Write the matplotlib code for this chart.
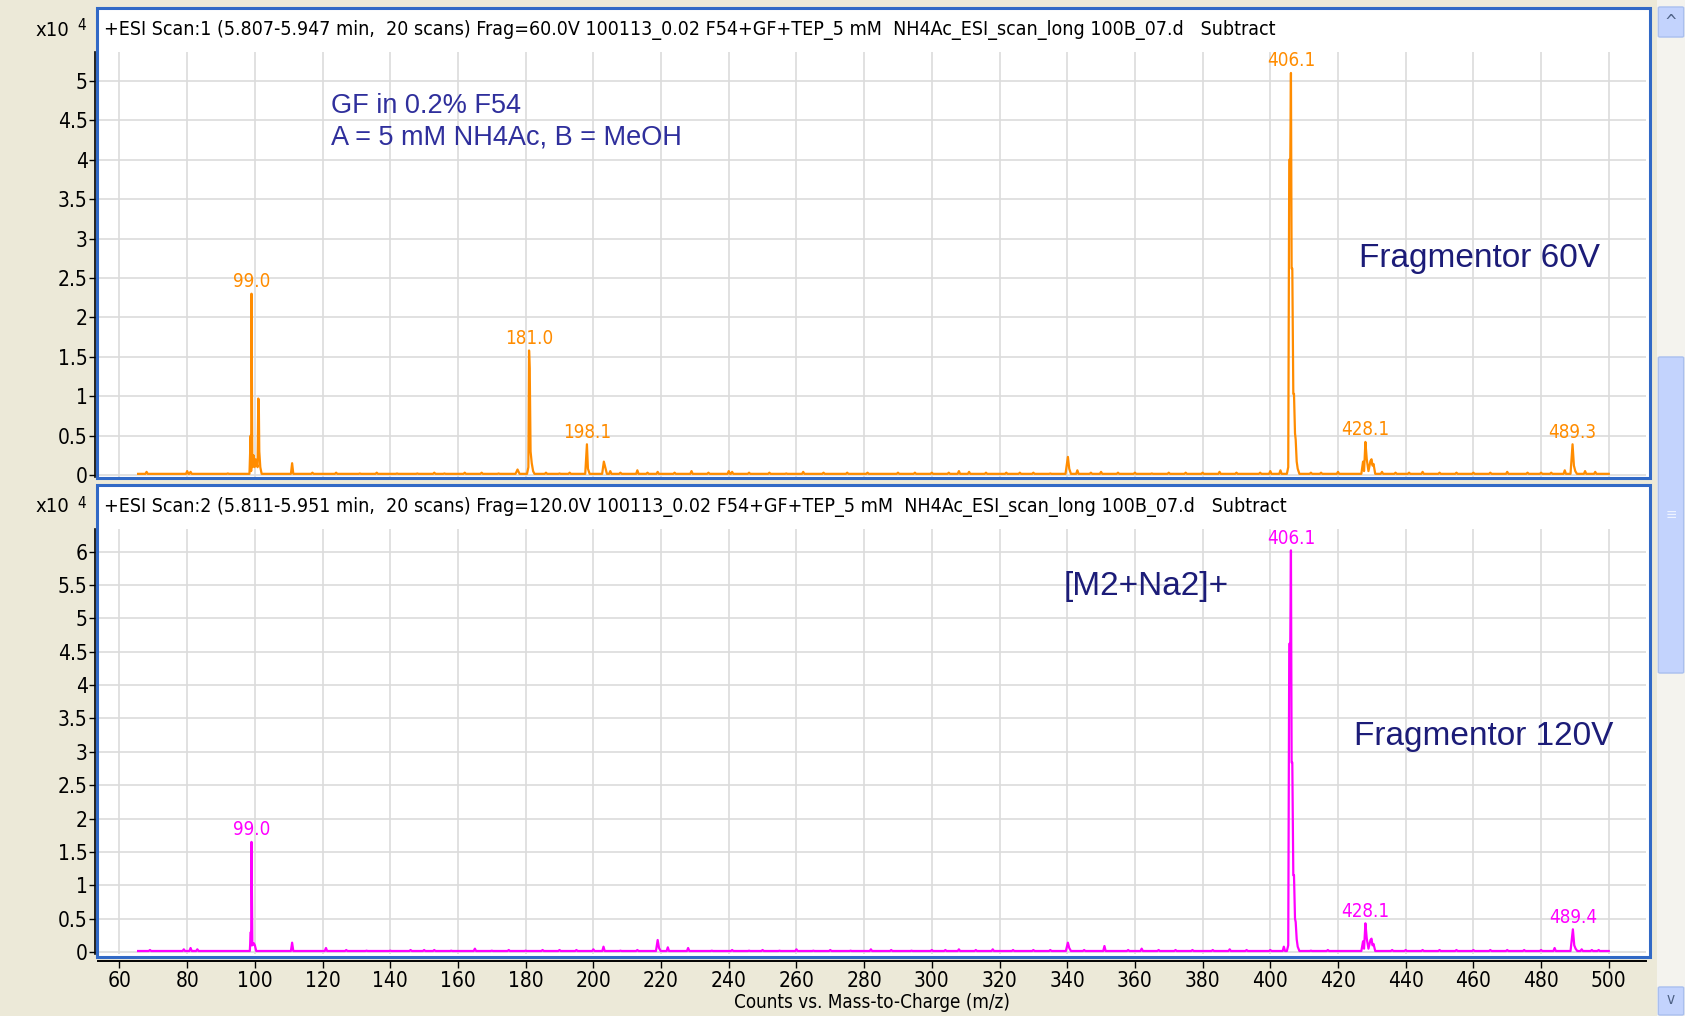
import matplotlib
matplotlib.use("Agg")
import matplotlib.pyplot as plt
from matplotlib.patches import Rectangle, FancyBboxPatch

# ---- data (counts x10^4 vs m/z) ----
x_ticks = [60, 80, 100, 120, 140, 160, 180, 200, 220, 240, 260, 280, 300,
           320, 340, 360, 380, 400, 420, 440, 460, 480, 500]
top_yticks = [0, 0.5, 1, 1.5, 2, 2.5, 3, 3.5, 4, 4.5, 5]
bot_yticks = [0, 0.5, 1, 1.5, 2, 2.5, 3, 3.5, 4, 4.5, 5, 5.5, 6]

# Fragmentor 60V: profile points of the main peaks
top_peak_mz = [98.4, 98.75, 98.9, 99.0, 99.25, 99.6, 99.9, 100.2, 100.8, 101.0, 101.15, 101.3, 101.6, 102.0,
               177.0, 177.6, 178.2,
               180.4, 180.8, 181.0, 181.2, 181.45, 181.8, 182.2, 182.6,
               197.6, 198.1, 198.4, 198.9,
               202.6, 203.1, 203.5, 204.0,
               339.5, 340.2, 340.6, 341.1,
               404.9, 405.3, 405.6, 405.9, 406.1, 406.3, 406.5, 406.8, 407.0, 407.3, 407.5, 407.8, 408.1, 408.6,
               426.9, 427.4, 427.7, 428.1, 428.5, 429.0, 429.6, 429.9, 430.2, 430.5, 431.0,
               488.7, 489.3, 489.7, 490.1, 490.6]
top_peak_int = [0.015, 0.5, 0.05, 2.3, 0.1, 0.25, 0.1, 0.2, 0.1, 0.97, 0.95, 0.3, 0.1, 0.015,
                0.015, 0.07, 0.015,
                0.015, 0.1, 1.58, 1.35, 0.3, 0.15, 0.05, 0.015,
                0.015, 0.39, 0.08, 0.015,
                0.015, 0.17, 0.1, 0.015,
                0.015, 0.23, 0.08, 0.015,
                0.015, 0.1, 4.0, 4.0, 5.1, 2.62, 2.62, 1.03, 1.03, 0.53, 0.45, 0.17, 0.08, 0.015,
                0.015, 0.17, 0.05, 0.42, 0.2, 0.05, 0.18, 0.2, 0.12, 0.14, 0.015,
                0.015, 0.39, 0.12, 0.05, 0.015]
top_blip_mz = [68, 80, 81, 92, 111, 117, 124, 131, 136, 142, 148, 153, 156, 162, 167, 172, 186, 190, 193,
               205, 208, 213, 216, 219, 224, 229, 234, 240, 241, 246, 252, 257, 262, 268, 275, 281, 290,
               295, 300, 305, 308, 311, 316, 322, 326, 330, 335, 343, 347, 350, 355, 360, 365, 370, 375,
               380, 385, 390, 397, 400, 403, 412, 415, 420, 433, 437, 441, 445, 450, 455, 460, 465, 470,
               476, 480, 483, 487, 493, 496]
top_blip_int = [0.04, 0.05, 0.04, 0.02, 0.15, 0.03, 0.03, 0.02, 0.03, 0.02, 0.02, 0.03, 0.02, 0.03, 0.03, 0.02,
                0.03, 0.02, 0.03,
                0.05, 0.03, 0.06, 0.03, 0.04, 0.03, 0.05, 0.03, 0.05, 0.04, 0.03, 0.03, 0.02, 0.04, 0.03,
                0.03, 0.03, 0.03,
                0.03, 0.03, 0.03, 0.05, 0.04, 0.03, 0.03, 0.03, 0.03, 0.02, 0.06, 0.03, 0.04, 0.03, 0.03,
                0.02, 0.03, 0.03,
                0.03, 0.04, 0.03, 0.03, 0.05, 0.06, 0.03, 0.03, 0.04, 0.04, 0.03, 0.03, 0.04, 0.03, 0.03,
                0.03, 0.03, 0.04,
                0.03, 0.03, 0.03, 0.06, 0.05, 0.04]
top_label_mz = [99.0, 181.0, 198.1, 406.1, 428.1, 489.3]
top_label_int = [2.3, 1.58, 0.39, 5.1, 0.42, 0.39]

# Fragmentor 120V
bot_peak_mz = [98.5, 98.8, 98.9, 99.0, 99.25, 99.7, 100.0, 100.4,
               218.5, 219.0, 219.4, 219.9,
               339.6, 340.2, 340.6, 341.1,
               404.9, 405.3, 405.6, 405.9, 406.1, 406.3, 406.5, 406.8, 407.0, 407.3, 407.5, 407.8, 408.1, 408.6,
               426.9, 427.4, 427.7, 428.1, 428.5, 429.0, 429.6, 429.9, 430.2, 430.5, 431.0,
               488.7, 489.4, 489.8, 490.2, 490.7]
bot_peak_int = [0.015, 0.3, 0.1, 1.65, 0.1, 0.13, 0.1, 0.015,
                0.015, 0.18, 0.06, 0.015,
                0.015, 0.14, 0.06, 0.015,
                0.015, 0.1, 4.62, 4.62, 6.02, 2.84, 2.84, 1.15, 1.15, 0.5, 0.45, 0.19, 0.08, 0.015,
                0.015, 0.16, 0.05, 0.43, 0.2, 0.05, 0.18, 0.2, 0.1, 0.12, 0.015,
                0.015, 0.34, 0.1, 0.05, 0.015]
bot_blip_mz = [69, 79, 81, 83, 111, 121, 127, 133, 140, 146, 150, 153, 158, 165, 170, 175, 180, 185,
               190, 195, 200, 203, 208, 213, 222, 228, 235, 241, 246, 250, 255, 260, 265, 270, 276,
               282, 288, 294, 300, 304, 308, 313, 318, 324, 330, 335, 345, 351, 358, 362, 367, 372,
               377, 383, 388, 393, 400, 404, 412, 417, 436, 440, 445, 450, 455, 460, 465, 470, 475,
               480, 484, 492, 495, 497]
bot_blip_int = [0.03, 0.04, 0.06, 0.04, 0.14, 0.06, 0.03, 0.02, 0.02, 0.03, 0.03, 0.03, 0.02, 0.05, 0.02,
                0.03, 0.02, 0.03,
                0.03, 0.03, 0.04, 0.08, 0.02, 0.03, 0.07, 0.06, 0.02, 0.03, 0.02, 0.03, 0.02, 0.04,
                0.02, 0.03, 0.02,
                0.04, 0.03, 0.02, 0.03, 0.03, 0.04, 0.03, 0.04, 0.03, 0.03, 0.03, 0.03, 0.09, 0.03,
                0.05, 0.03, 0.03,
                0.03, 0.03, 0.04, 0.03, 0.03, 0.08, 0.02, 0.03, 0.03, 0.03, 0.03, 0.03, 0.03, 0.03,
                0.03, 0.03, 0.03,
                0.03, 0.06, 0.04, 0.03, 0.03]
bot_label_mz = [99.0, 406.1, 428.1, 489.4]
bot_label_int = [1.65, 6.02, 0.43, 0.34]

top_header = ("+ESI Scan:1 (5.807-5.947 min,  20 scans) Frag=60.0V 100113_0.02 F54+GF+TEP_5 mM  "
              "NH4Ac_ESI_scan_long 100B_07.d   Subtract")
bot_header = ("+ESI Scan:2 (5.811-5.951 min,  20 scans) Frag=120.0V 100113_0.02 F54+GF+TEP_5 mM  "
              "NH4Ac_ESI_scan_long 100B_07.d   Subtract")

ORANGE = "#FF8C00"
MAGENTA = "#FF00FF"
FRAME = "#3169C6"
BG = "#ECE9D8"
NAVY = "#1C1C78"
arial = ["Liberation Sans", "DejaVu Sans"]
SMALL = 13.5
TICK = 15

plt.rcParams["font.family"] = ["DejaVu Sans"]
plt.rcParams["font.stretch"] = "condensed"

W, H = 1685, 1016


def build_trace(peak_mz, peak_int, blip_mz, blip_int, start=65.5, end=500.0, base=0.015):
    pts = [(start, base), (end, base)]
    pts += list(zip(peak_mz, peak_int))
    for m, h in zip(blip_mz, blip_int):
        pts += [(m - 0.35, base), (m, h), (m + 0.35, base)]
    pts.sort()
    return [p[0] for p in pts], [p[1] for p in pts]


def fx(px):
    return px / W


def fy(py):
    return 1 - py / H


fig = plt.figure(figsize=(W / 100, H / 100), dpi=100, facecolor=BG)

# panel backgrounds (white)
for top, bottom in [(8, 478), (485, 957)]:
    fig.patches.append(Rectangle((fx(97), fy(bottom)), fx(1650) - fx(97), (bottom - top) / H,
                                 transform=fig.transFigure, facecolor="white",
                                 edgecolor="none", zorder=-5))


def make_axes(top, bottom, ymin, ymax, yticks):
    ax = fig.add_axes([fx(98), fy(bottom), fx(1646) - fx(98), (bottom - top) / H])
    ax.set_facecolor("white")
    ax.set_xlim(53.65, 511.0)
    ax.set_ylim(ymin, ymax)
    ax.set_xticks(x_ticks)
    ax.set_yticks(yticks)
    ax.set_yticklabels([f"{t:g}" for t in yticks])
    ax.grid(True, color="#DCDCDC", linewidth=1.2)
    ax.set_axisbelow(True)
    for s in ["top", "right"]:
        ax.spines[s].set_visible(False)
    ax.spines["left"].set_color("black")
    ax.spines["left"].set_linewidth(1.2)
    ax.spines["left"].set_position(("outward", 2))
    ax.tick_params(axis="y", direction="out", length=4, width=1, pad=1.5, labelsize=TICK)
    return ax


ax1 = make_axes(52, 477, -0.025, 5.366, top_yticks)
ax1.spines["bottom"].set_visible(False)
ax1.tick_params(axis="x", length=0, labelbottom=False)

ax2 = make_axes(529, 954, -0.03, 6.34, bot_yticks)
ax2.spines["bottom"].set_position(("outward", 5))
ax2.spines["bottom"].set_linewidth(1.4)
ax2.tick_params(axis="x", direction="out", length=5, width=1, pad=2, labelsize=TICK)
ax2.set_xticklabels([str(t) for t in x_ticks])
ax2.set_xlabel("Counts vs. Mass-to-Charge (m/z)", fontsize=13.5, labelpad=2)

# spectra
mz, inten = build_trace(top_peak_mz, top_peak_int, top_blip_mz, top_blip_int)
ax1.plot(mz, inten, color=ORANGE, linewidth=1.6, zorder=3)
mz, inten = build_trace(bot_peak_mz, bot_peak_int, bot_blip_mz, bot_blip_int)
ax2.plot(mz, inten, color=MAGENTA, linewidth=1.6, zorder=3)

for ax, lm, li, col in [(ax1, top_label_mz, top_label_int, ORANGE),
                        (ax2, bot_label_mz, bot_label_int, MAGENTA)]:
    for m, h in zip(lm, li):
        ax.annotate(f"{m:.1f}", (m, h), xytext=(0, 2), textcoords="offset points",
                    ha="center", va="bottom", color=col, fontsize=SMALL)

# blue frame borders on top of everything
for top, bottom in [(8, 478), (485, 957)]:
    fig.patches.append(Rectangle((fx(97), fy(bottom)), fx(1650) - fx(97), (bottom - top) / H,
                                 transform=fig.transFigure, facecolor="none",
                                 edgecolor=FRAME, linewidth=2.2, zorder=10))

# headers and exponent labels
for yc, txt in [(30, top_header), (507, bot_header)]:
    fig.text(fx(104), fy(yc), txt, ha="left", va="center", fontsize=14)
    fig.text(fx(69), fy(yc), "x10", ha="right", va="center", fontsize=14.5)
    fig.text(fx(77), fy(yc - 4), "4", ha="left", va="center", fontsize=11)

# annotations
fig.text(fx(331), fy(106), "GF in 0.2% F54", ha="left", va="center", color="#2F2F9C",
         fontfamily=arial, fontstretch="normal", fontsize=19.5)
fig.text(fx(331), fy(138), "A = 5 mM NH4Ac, B = MeOH", ha="left", va="center", color="#2F2F9C",
         fontfamily=arial, fontstretch="normal", fontsize=19.5)
fig.text(fx(1359), fy(258), "Fragmentor 60V", ha="left", va="center", color=NAVY,
         fontfamily=arial, fontstretch="normal", fontsize=24)
fig.text(fx(1064), fy(586), "[M2+Na2]+", ha="left", va="center", color=NAVY,
         fontfamily=arial, fontstretch="normal", fontsize=24)
fig.text(fx(1354), fy(736), "Fragmentor 120V", ha="left", va="center", color=NAVY,
         fontfamily=arial, fontstretch="normal", fontsize=24)

# scrollbar on the right
fig.patches.append(Rectangle((fx(1657), 0), fx(28), 1, transform=fig.transFigure,
                             facecolor="#F4F3EE", edgecolor="none", zorder=1))
for y0, y1 in [(8, 36), (988, 1014)]:
    fig.patches.append(FancyBboxPatch((fx(1660), fy(y1)), fx(22), (y1 - y0) / H,
                                      boxstyle="round,pad=0.001", transform=fig.transFigure,
                                      facecolor="#C3D3FD", edgecolor="#A9BFEF", linewidth=1, zorder=2))
fig.patches.append(FancyBboxPatch((fx(1660), fy(672)), fx(22), (672 - 358) / H,
                                  boxstyle="round,pad=0.001", transform=fig.transFigure,
                                  facecolor="#C3D3FD", edgecolor="#A9BFEF", linewidth=1, zorder=2))
fig.text(fx(1671), fy(22), "^", ha="center", va="center", fontsize=12, color="#4D6185")
fig.text(fx(1671), fy(1000), "v", ha="center", va="center", fontsize=11, color="#4D6185")
fig.text(fx(1671), fy(515), "\u2261", ha="center", va="center", fontsize=11, color="#EEF3FF")

fig.savefig("out.png", dpi=100, facecolor=BG)
